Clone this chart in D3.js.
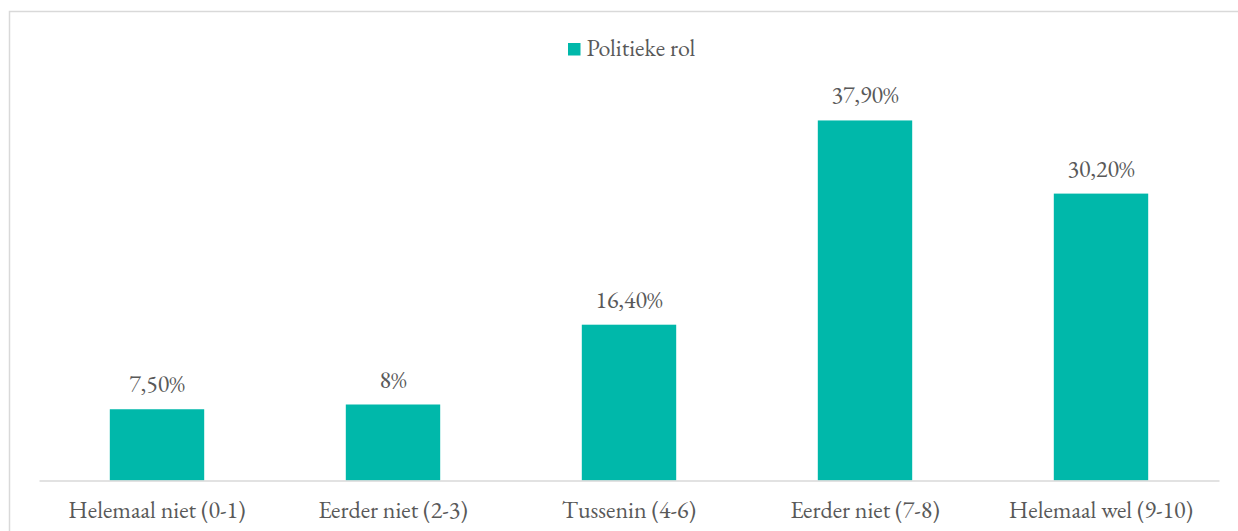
<!DOCTYPE html>
<html>
<head>
<meta charset="utf-8">
<script src="https://cdn.jsdelivr.net/npm/d3@7"></script>
<style>
    html, body { margin: 0; padding: 0; background: #fff; }
    svg { display: block; }
</style>
</head>
<body>
<svg id="chart"></svg>
<script>
// chart data
var categories = ["Helemaal niet (0-1)", "Eerder niet (2-3)", "Tussenin (4-6)", "Eerder niet (7-8)", "Helemaal wel (9-10)"];
var values = [7.5, 8, 16.4, 37.9, 30.2];
var valueLabels = ["7,50%", "8%", "16,40%", "37,90%", "30,20%"];
var seriesName = "Politieke rol";

function drawChart() {
    var width = 1238;
    var height = 531;
    var barColor = "#00b8aa";
    var textColor = "#595959";
    var fontFamily = "'EB Garamond', 'Liberation Serif', serif";
    var fontSize = 24;

    var svg = d3.select("#chart")
        .attr("width", width)
        .attr("height", height);

    // chart frame (only top and left edge are inside the picture)
    svg.append("rect")
        .attr("x", 9.5)
        .attr("y", 11.5)
        .attr("width", 1400)
        .attr("height", 700)
        .attr("fill", "none")
        .attr("stroke", "#d9d9d9")
        .attr("stroke-width", 1.5);

    var x = d3.scaleBand()
        .domain(categories)
        .range([39, 1219])
        .paddingInner(0.6)
        .paddingOuter(0.3);

    var y = d3.scaleLinear()
        .domain([0, 40])
        .range([480.5, 100.5]);

    // bars
    svg.selectAll(".bar")
        .data(values)
        .enter().append("rect")
        .attr("class", "bar")
        .attr("x", function (d, i) { return x(categories[i]); })
        .attr("y", function (d) { return y(d); })
        .attr("width", x.bandwidth())
        .attr("height", function (d) { return y(0) - y(d); })
        .attr("fill", barColor);

    // value labels
    svg.selectAll(".value-label")
        .data(values)
        .enter().append("text")
        .attr("class", "value-label")
        .attr("x", function (d, i) { return x(categories[i]) + x.bandwidth() / 2; })
        .attr("y", function (d) { return y(d) - 17; })
        .attr("text-anchor", "middle")
        .attr("font-family", fontFamily)
        .attr("font-size", fontSize)
        .attr("fill", textColor)
        .text(function (d, i) { return valueLabels[i]; });

    // x axis
    var xAxis = d3.axisBottom(x).tickSize(0).tickPadding(20);
    var axisG = svg.append("g")
        .attr("transform", "translate(0," + y(0) + ")")
        .attr("font-family", fontFamily)
        .call(xAxis);
    axisG.attr("font-family", fontFamily).attr("font-size", fontSize);
    axisG.select(".domain")
        .attr("stroke", "#d9d9d9")
        .attr("stroke-width", 1.5);
    axisG.selectAll(".tick text")
        .attr("fill", textColor);

    // legend
    var legend = svg.append("g").attr("transform", "translate(568,43)");
    legend.append("rect")
        .attr("width", 12.5)
        .attr("height", 12.5)
        .attr("fill", barColor);
    legend.append("text")
        .attr("x", 18.5)
        .attr("y", 12.7)
        .attr("font-family", fontFamily)
        .attr("font-size", fontSize)
        .attr("fill", textColor)
        .text(seriesName);
}

drawChart();
</script>
</body>
</html>
